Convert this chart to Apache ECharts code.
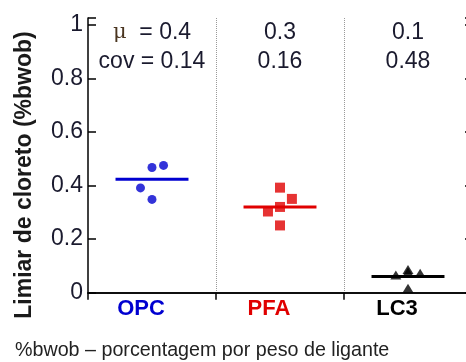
<!DOCTYPE html>
<html><head><meta charset="utf-8">
<script src="https://cdn.jsdelivr.net/npm/echarts@6/dist/echarts.min.js"></script>
<style>html,body{margin:0;padding:0;background:#fff}#c{width:466px;height:362px}</style>
</head><body><div id="c"></div>
<script>
const categories = ['OPC', 'PFA', 'LC3'];
const categoryColors = ['#0000d0', '#e00000', '#000000'];
const opcValues = [0.391, 0.467, 0.475, 0.348];
const opcOffsets = [-0.09, 0, 0.09, 0];
const pfaValues = [0.392, 0.350, 0.320, 0.303, 0.251];
const pfaOffsets = [0, 0.093, 0, -0.094, 0];
const lc3Values = [0.066, 0.077, 0.087, 0.073, 0.017];
const lc3Offsets = [-0.095, 0, 0, 0.095, 0];
const meanValues = [0.423, 0.320, 0.060];
const muLabels = ['0.4', '0.3', '0.1'];
const covLabels = ['0.14', '0.16', '0.48'];
const yMin = 0, yMax = 1.025, yInterval = 0.2;

const FONT = 'Liberation Sans, Arial, sans-serif';
const LINE_HALF = 0.285;
const chart = echarts.init(document.getElementById('c'), null, {renderer: 'canvas'});

function pts(vals, offs, ci) {
  return vals.map((v, i) => [ci + 0.5 + offs[i], v]);
}
const groups = [
  {vals: opcValues, offs: opcOffsets, symbol: 'circle', size: 9},
  {vals: pfaValues, offs: pfaOffsets, symbol: 'rect', size: 10},
  {vals: lc3Values, offs: lc3Offsets, symbol: 'triangle', size: [11, 9]}
];
const series = [];
groups.forEach((g, ci) => {
  series.push({
    type: 'scatter', xAxisIndex: 1, yAxisIndex: 0,
    data: pts(g.vals, g.offs, ci), symbol: g.symbol, symbolSize: g.size,
    itemStyle: {color: categoryColors[ci]}, silent: true, z: 3
  });
});
meanValues.forEach((m, ci) => {
  series.push({
    type: 'line', xAxisIndex: 1, yAxisIndex: 0,
    data: [[ci + 0.5 - LINE_HALF, m], [ci + 0.5 + LINE_HALF, m]],
    symbol: 'none', lineStyle: {color: categoryColors[ci], width: 3}, silent: true, z: 4
  });
});

const rich = {};
categories.forEach((c, i) => {
  rich['c' + i] = {color: categoryColors[i], fontSize: 22, fontWeight: 'bold', fontFamily: FONT};
});
const axisLineStyle = {color: '#000', width: 1.5};

chart.setOption({
  animation: false,
  grid: {left: 88, top: 18, width: 384, height: 274.7, containLabel: false, outerBoundsMode: 'none'},
  xAxis: [{
    type: 'category', data: categories, position: 'bottom', boundaryGap: true,
    axisLine: {lineStyle: axisLineStyle},
    axisTick: {inside: true, length: 8, lineStyle: axisLineStyle},
    axisLabel: {margin: 5, padding: [0, 22, 0, 0], formatter: (v, i) => '{c' + i + '|' + v + '}', rich: rich},
    splitLine: {show: true, showMinLine: false, showMaxLine: false, lineStyle: {type: 'dotted', color: '#999', width: 1}}
  }, {
    type: 'value', min: 0, max: 3, interval: 1, position: 'top',
    axisLine: {show: true, lineStyle: axisLineStyle},
    axisTick: {show: true, inside: true, length: 7, lineStyle: axisLineStyle},
    axisLabel: {show: false}, splitLine: {show: false}
  }],
  yAxis: [{
    type: 'value', min: yMin, max: yMax, interval: yInterval, position: 'left',
    axisLine: {show: true, lineStyle: axisLineStyle},
    axisTick: {show: true, inside: true, length: 8, lineStyle: axisLineStyle},
    axisLabel: {
      margin: 5, fontSize: 23, color: '#1a1a2e', fontFamily: FONT, padding: [0, 0, 7, 0],
      formatter: v => (Math.abs(v / yInterval - Math.round(v / yInterval)) > 1e-6) ? '' : String(+v.toFixed(1))
    },
    splitLine: {show: false}
  }, {
    type: 'value', min: yMin, max: yMax, interval: yInterval, position: 'right',
    axisLine: {show: true, lineStyle: axisLineStyle},
    axisTick: {show: true, inside: true, length: 7, lineStyle: axisLineStyle},
    axisLabel: {show: false}, splitLine: {show: false}
  }],
  series: series
});

const graphics = [];
categories.forEach((c, ci) => {
  const x = chart.convertToPixel({xAxisIndex: 1}, ci + 0.5);
  graphics.push({
    type: 'text', x: x, y: 33,
    style: {text: ci === 0 ? '{m|μ}  = ' + muLabels[ci] : muLabels[ci], fill: '#1a1a2e', font: '23px ' + FONT,
      textAlign: 'center', textVerticalAlign: 'middle',
      rich: {m: {fontFamily: 'DejaVu Serif, serif', fontSize: 21, fill: '#4a3520', fontStyle: 'normal'}}}
  });
  graphics.push({
    type: 'text', x: x, y: 62,
    style: {text: ci === 0 ? 'cov = ' + covLabels[ci] : covLabels[ci], fill: '#1a1a2e', font: '23px ' + FONT,
      textAlign: 'center', textVerticalAlign: 'middle'}
  });
});
graphics.push({
  type: 'text', x: 25, y: 175, rotation: Math.PI / 2,
  style: {text: 'Limiar de cloreto (%bwob)', fill: '#1a1a1a', font: 'bold 23px ' + FONT,
    textAlign: 'center', textVerticalAlign: 'middle'}
});
graphics.push({
  type: 'text', x: 15, y: 351,
  style: {text: '%bwob – porcentagem por peso de ligante', fill: '#222', font: '19.7px ' + FONT,
    textAlign: 'left', textVerticalAlign: 'middle'}
});
chart.setOption({graphic: graphics});
</script></body></html>
